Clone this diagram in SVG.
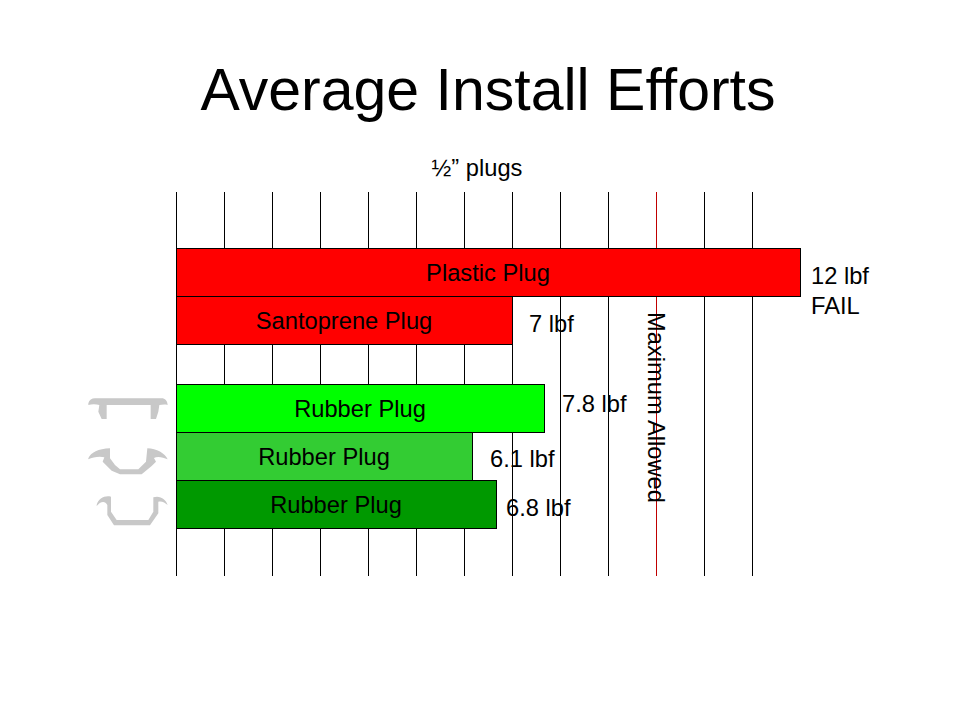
<svg xmlns="http://www.w3.org/2000/svg" width="960" height="720" viewBox="0 0 960 720">
<style>
text{font-family:"Liberation Sans",Arial,sans-serif;font-size:23.7px;fill:#000}
.title{font-size:59px}
.g{stroke:#000;stroke-width:1;fill:none}
.bar{stroke:#000;stroke-width:1}
.p{fill:#c8c8c8;stroke:none}
</style>
<rect width="960" height="720" fill="#fff"/>
<text class="title" x="488" y="110" text-anchor="middle">Average Install Efforts</text>
<text x="477" y="176" text-anchor="middle">½” plugs</text>
<g id="connectors">
<path class="g" d="M176.500 192V576M224.500 192V576M272.500 192V576M320.500 192V576M368.500 192V576M416.500 192V576M464.500 192V576M512.500 192V576M560.500 192V576M608.500 192V576M704.500 192V576M752.500 192V576"/>
<path d="M656.500 192V576" stroke="#c00000" fill="none"/>
</g>
<g id="bar-plastic"><rect class="bar" x="176.500" y="248.500" width="624" height="48" fill="#ff0000"/><text x="488" y="281" text-anchor="middle">Plastic Plug</text></g>
<g id="bar-santoprene"><rect class="bar" x="176.500" y="296.500" width="336" height="48" fill="#ff0000"/><text x="344" y="329" text-anchor="middle">Santoprene Plug</text></g>
<g id="bar-rubber-1"><rect class="bar" x="176.500" y="384.500" width="368" height="48" fill="#00ff00"/><text x="360" y="417" text-anchor="middle">Rubber Plug</text></g>
<g id="bar-rubber-2"><rect class="bar" x="176.500" y="432.500" width="296" height="48" fill="#33cc33"/><text x="324" y="465" text-anchor="middle">Rubber Plug</text></g>
<g id="bar-rubber-3"><rect class="bar" x="176.500" y="480.500" width="320" height="48" fill="#009900"/><text x="336" y="513" text-anchor="middle">Rubber Plug</text></g>
<g id="labels">
<text x="811" y="284">12 lbf</text>
<text x="811" y="314">FAIL</text>
<text x="529" y="332">7 lbf</text>
<text x="562" y="412">7.8 lbf</text>
<text x="490" y="467">6.1 lbf</text>
<text x="506" y="516">6.8 lbf</text>
<text transform="translate(648 312) rotate(90)">Maximum Allowed</text>
</g>
<g id="profile-1" transform="translate(70 380) scale(.3333)"><path class="p" d="M55 70C58 60 65 55 75 55H275C285 55 292 62 293 75C285 72 275 74 268 75L265 95L258 117H242V75H110V117H95L85 95L88 75C78 72 65 72 55 75Z"/></g>
<g id="profile-2" transform="translate(70 380) scale(.3333)"><path class="p" d="M55 235C62 218 85 206 120 205V235L135 255L150 268H205L228 245L232 205C260 206 285 220 293 238C280 232 262 228 252 234L258 245L245 258L215 283H150L125 272L98 245L103 232C88 228 68 232 55 238Z"/></g>
<g id="profile-3" transform="translate(70 380) scale(.3333)"><path class="p" d="M80 375C85 355 105 345 123 350V395L140 420H235L250 395V352C270 345 288 358 293 375C285 368 275 362 265 365V400L240 436H132L112 405V375C105 360 90 365 80 378Z"/></g>
</svg>
